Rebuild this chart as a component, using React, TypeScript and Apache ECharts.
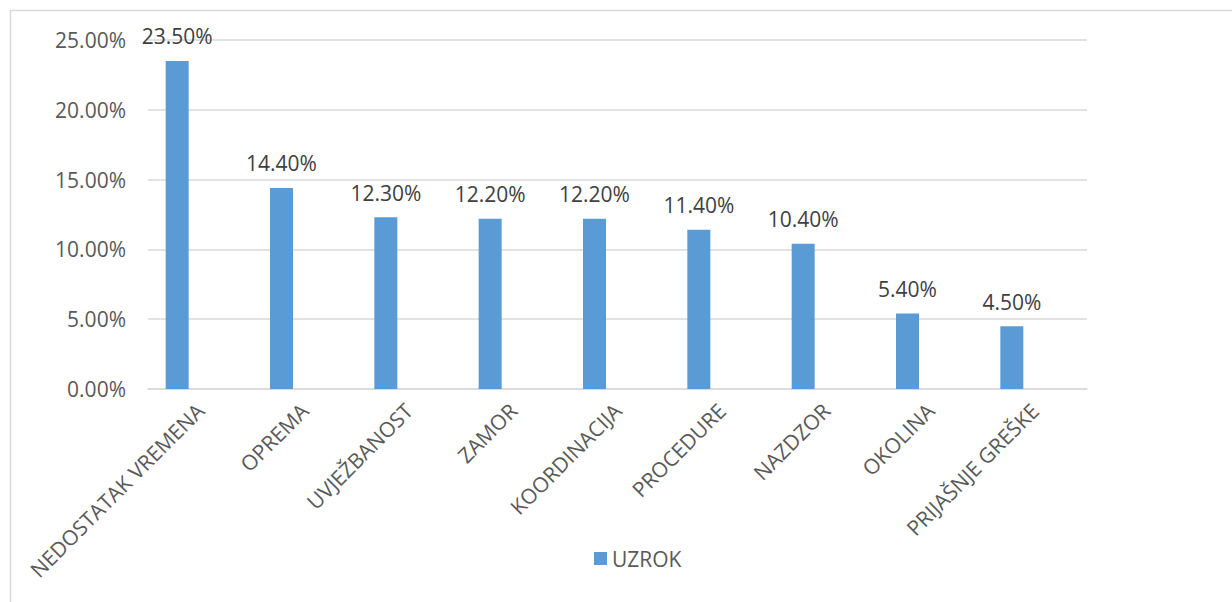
import React, { useEffect, useRef } from "react";
import * as echarts from "echarts";

const categories = [
  "NEDOSTATAK VREMENA",
  "OPREMA",
  "UVJEŽBANOST",
  "ZAMOR",
  "KOORDINACIJA",
  "PROCEDURE",
  "NAZDZOR",
  "OKOLINA",
  "PRIJAŠNJE GREŠKE",
];
const uzrokValues = [23.5, 14.4, 12.3, 12.2, 12.2, 11.4, 10.4, 5.4, 4.5];
const seriesName = "UZROK";
const yMin = 0;
const yMax = 25;
const yInterval = 5;

const FONT = "'Open Sans', 'Noto Sans', sans-serif";
const TEXT = "#595959";
const FS = 21;

export default function App() {
  const ref = useRef<HTMLDivElement>(null);
  useEffect(() => {
    if (!ref.current) return;
    const chart = echarts.init(ref.current, undefined, { renderer: "svg" });
    chart.setOption({
      animation: false,
      backgroundColor: "#ffffff",
      textStyle: { fontFamily: FONT },
      graphic: [
        {
          type: "rect",
          shape: { x: 10.5, y: 10.5, width: 1400, height: 800 },
          style: { fill: "none", stroke: "#D9D9D9", lineWidth: 1.5 },
          silent: true,
        },
      ],
      grid: { left: 148, right: 145, top: 40, bottom: 213, containLabel: false },
      legend: {
        data: [seriesName],
        top: 543,
        left: 589,
        icon: "rect",
        itemWidth: 13,
        itemHeight: 13,
        itemGap: 8,
        textStyle: { fontSize: FS, color: TEXT, fontFamily: FONT },
      },
      xAxis: {
        type: "category",
        data: categories,
        axisTick: { show: false },
        axisLine: { lineStyle: { color: "#D9D9D9", width: 1.5 } },
        axisLabel: {
          rotate: 45,
          interval: 0,
          margin: 18,
          fontSize: FS,
          color: TEXT,
          fontFamily: FONT,
        },
      },
      yAxis: {
        type: "value",
        min: yMin,
        max: yMax,
        interval: yInterval,
        axisLine: { show: false },
        axisTick: { show: false },
        splitLine: { lineStyle: { color: "#D9D9D9", width: 1.5 } },
        axisLabel: {
          margin: 22,
          fontSize: FS,
          color: TEXT,
          fontFamily: FONT,
          formatter: (v: number) => v.toFixed(2) + "%",
        },
      },
      series: [
        {
          name: seriesName,
          type: "bar",
          data: uzrokValues,
          barWidth: 23,
          barGap: "0%",
          itemStyle: { color: "#5B9BD5" },
          label: {
            show: true,
            position: "top",
            distance: 14,
            fontSize: FS,
            color: "#404040",
            fontFamily: FONT,
            formatter: (p: any) => Number(p.value).toFixed(2) + "%",
          },
        },
        { name: "_empty1", type: "bar", data: [], barWidth: 23, barGap: "0%" },
        { name: "_empty2", type: "bar", data: [], barWidth: 23, barGap: "0%" },
      ],
    });
    return () => chart.dispose();
  }, []);
  return (
    <div
      ref={ref}
      style={{ position: "fixed", left: 0, top: 0, width: 1232, height: 602 }}
    />
  );
}
